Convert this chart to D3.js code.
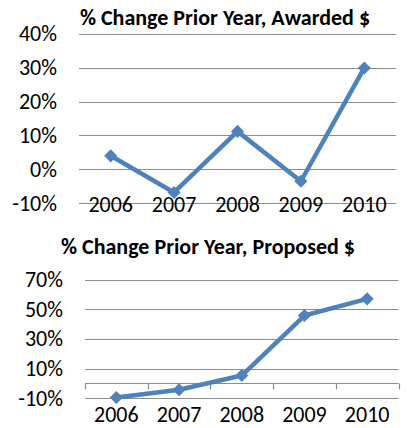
<!DOCTYPE html>
<html>
<head>
<meta charset="utf-8">
<script src="https://cdn.jsdelivr.net/npm/d3@7"></script>
<style>
  body { margin: 0; background: #fff; }
  text { font-family: Carlito, Calibri, "Open Sans", sans-serif; fill: #000; }
</style>
</head>
<body>
<svg width="416" height="428"></svg>
<script>
var years = ["2006", "2007", "2008", "2009", "2010"];
var awarded = [4.0, -6.8, 11.2, -3.5, 29.9];
var proposed = [-9.5, -4.3, 5.3, 45.8, 57.1];
var awardedTicks = [-10, 0, 10, 20, 30, 40];
var proposedTicks = [-10, 10, 30, 50, 70];

var svg = d3.select("svg");
var blue = "#4f81bd", grid = "#8c8c8c";

function drawChart(opt) {
  var g = svg.append("g");

  var x = d3.scaleBand().domain(years).range([opt.left, opt.right]);
  var y = d3.scaleLinear().domain(opt.domain).range([opt.bottom, opt.top]);

  g.append("text")
      .attr("x", opt.titleX)
      .attr("y", opt.titleY)
      .attr("text-anchor", "middle")
      .style("font-weight", "bold")
      .style("font-size", "22px")
      .text(opt.title);

  // gridlines
  g.selectAll(".grid")
      .data(opt.ticks)
    .enter().append("line")
      .attr("x1", opt.left).attr("x2", opt.right)
      .attr("y1", function(d) { return Math.round(y(d)) + 0.5; })
      .attr("y2", function(d) { return Math.round(y(d)) + 0.5; })
      .style("stroke", grid)
      .style("stroke-width", 1.2);

  // y labels
  g.selectAll(".ylab")
      .data(opt.ticks)
    .enter().append("text")
      .attr("x", opt.labelX)
      .attr("y", function(d) { return y(d); })
      .attr("dy", "0.34em")
      .attr("text-anchor", "end")
      .style("font-size", "22px")
      .text(function(d) { return d + "%"; });

  // category axis at 0 with tick marks (bottom chart)
  if (opt.axisTicks) {
    var y0 = Math.round(y(0)) + 0.5;
    g.append("line")
        .attr("x1", opt.left).attr("x2", opt.right)
        .attr("y1", y0).attr("y2", y0)
        .style("stroke", grid).style("stroke-width", 1.2);
    var edges = years.map(function(d) { return x(d); }).concat([opt.right]);
    g.selectAll(".tick")
        .data(edges)
      .enter().append("line")
        .attr("x1", function(d) { return Math.round(d) + 0.5; })
        .attr("x2", function(d) { return Math.round(d) + 0.5; })
        .attr("y1", y0).attr("y2", y0 + 6)
        .style("stroke", grid).style("stroke-width", 1.2);
  }

  // x labels
  g.selectAll(".xlab")
      .data(years)
    .enter().append("text")
      .attr("x", function(d) { return x(d) + x.bandwidth() / 2; })
      .attr("y", opt.xLabelY)
      .attr("text-anchor", "middle")
      .style("font-size", "22px")
      .text(function(d) { return d; });

  var line = d3.line()
      .x(function(d, i) { return x(years[i]) + x.bandwidth() / 2; })
      .y(function(d) { return y(d); });

  g.append("path")
      .datum(opt.values)
      .attr("d", line)
      .style("fill", "none")
      .style("stroke", blue)
      .style("stroke-width", 4.5)
      .style("stroke-linejoin", "round");

  g.selectAll(".pt")
      .data(opt.values)
    .enter().append("path")
      .attr("d", d3.symbol().type(d3.symbolDiamond2).size(110))
      .attr("transform", function(d, i) {
        return "translate(" + (x(years[i]) + x.bandwidth() / 2) + "," + y(d) + ")";
      })
      .style("fill", blue);
}

drawChart({
  title: "% Change Prior Year, Awarded $",
  titleX: 225, titleY: 25,
  values: awarded, ticks: awardedTicks,
  domain: [-10, 40],
  left: 79, right: 396, top: 33.7, bottom: 203.3,
  labelX: 57, xLabelY: 211.5, axisTicks: false
});

drawChart({
  title: "% Change Prior Year, Proposed $",
  titleX: 208, titleY: 254,
  values: proposed, ticks: proposedTicks,
  domain: [-10, 70],
  left: 85, right: 398.5, top: 279.7, bottom: 398.2,
  labelX: 63, xLabelY: 422, axisTicks: true
});
</script>
</body>
</html>
